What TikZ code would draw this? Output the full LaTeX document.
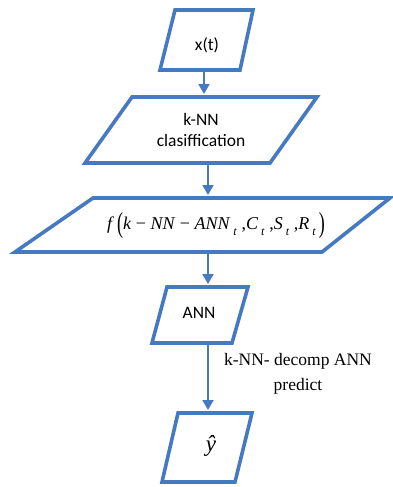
\documentclass[tikz,border=0pt]{standalone}
\usepackage{fontspec}
\usepackage{graphicx}
\setmainfont{Liberation Serif}
\newfontfamily\boxfont{Carlito}
\usetikzlibrary{arrows.meta}
\definecolor{flowblue}{RGB}{70,122,192}
\tikzset{
  shapeline/.style={draw=flowblue, line width=3.6pt, line join=miter},
  flow/.style={draw=flowblue, line width=2pt, -{Triangle[width=11pt,length=10pt]}, shorten >=1pt},
  boxtext/.style={font=\boxfont\fontsize{17.5}{21}\selectfont, align=center, inner sep=0pt},
  serif/.style={font=\fontsize{17.5}{25}\selectfont, align=center, inner sep=0pt}
}
\newcommand\tsub[1]{\raisebox{-0.3em}{\fontsize{12}{12}\selectfont\textit{#1}}}
\newcommand\tallparen[1]{\raisebox{-0.18em}{\scalebox{1}[1.6]{#1}}}
\begin{document}
\begin{tikzpicture}[x=1pt,y=-1pt]
\useasboundingbox (0,0) rectangle (392,487);

% input x(t)
\draw[shapeline] (175,10) -- (253,10) -- (240,70) -- (160,70) -- cycle;
\node[boxtext] (xt) at (207,45) {x(t)};

% k-NN classification
\draw[shapeline] (132,97) -- (317,97) -- (270,163) -- (85,163) -- cycle;
\node[boxtext] (knn) at (201,130) {k-NN\\clasiffication};

% combined function
\draw[shapeline] (93,198) -- (390,198) -- (322,252) -- (15,252) -- cycle;
\node[inner sep=0pt, font=\fontsize{18}{20}\selectfont] (func) at (216,226)
  {\textit{f}\,\tallparen{(}\textit{k} − \textit{NN} − \textit{ANN}\,\tsub{t} ,\textit{C}\,\tsub{t} ,\textit{S}\,\tsub{t} ,\textit{R}\,\tsub{t}\,\tallparen{)}};

% ANN
\draw[shapeline] (167,287) -- (248,287) -- (232,343) -- (152,343) -- cycle;
\node[boxtext] (ann) at (199,313) {ANN};

% prediction
\draw[shapeline] (178,413) -- (252,413) -- (235,482) -- (162,482) -- cycle;
\node[inner sep=0pt, font=\fontsize{23}{23}\selectfont] (yhat) at (211,446) {\textit{ŷ}};

% label on the last connector
\node[serif] (lbl) at (298,374) {k-NN- decomp ANN\\predict};

% connector ends on the shape edges
\coordinate (xt-out) at (204,72);
\coordinate (knn-in) at (204,95);
\coordinate (knn-out) at (208,165);
\coordinate (func-in) at (208,196);
\coordinate (func-out) at (208,254);
\coordinate (ann-in) at (208,285);
\coordinate (ann-out) at (208,345);
\coordinate (yhat-in) at (208,411);

\draw[flow] (xt-out) -- (knn-in);
\draw[flow] (knn-out) -- (func-in);
\draw[flow] (func-out) -- (ann-in);
\draw[flow] (ann-out) -- (yhat-in);
\end{tikzpicture}
\end{document}
